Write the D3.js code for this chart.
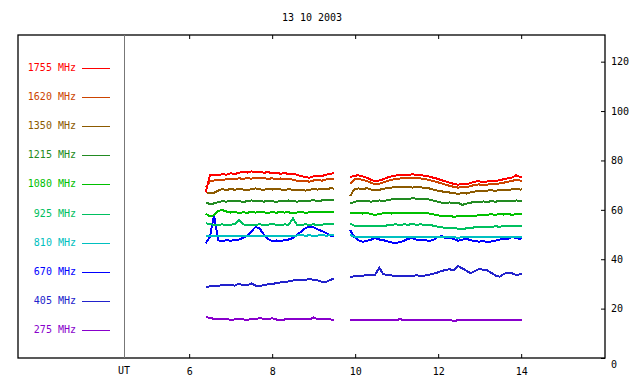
<!DOCTYPE html>
<meta charset="utf-8">
<script src="https://d3js.org/d3.v7.min.js"></script>
<style>
  body { margin: 0; background: #fff; }
  text { font-family: "DejaVu Sans Mono", monospace; font-size: 10px; }
</style>
<div id="chart"></div>
<script>
// frequencies (legend, top to bottom) and their colours
const freqs = ["1755 MHz", "1620 MHz", "1350 MHz", "1215 MHz", "1080 MHz",
               "925 MHz", "810 MHz", "670 MHz", "405 MHz", "275 MHz"];
const colors = ["#ff0000", "#cc4400", "#8c5a00", "#228b22", "#00c000",
                "#00c060", "#00c0c0", "#0000ff", "#2222cc", "#8800cc"];

const xTicks = [6, 8, 10, 12, 14];
const yTicks = [0, 20, 40, 60, 80, 100, 120];

// UT hours of the two observing runs
const t1 = [6.40,6.50,6.60,6.70,6.80,6.90,7.00,7.10,7.20,7.30,7.40,7.50,7.60,7.70,7.80,7.90,
            8.00,8.10,8.20,8.30,8.40,8.50,8.60,8.70,8.80,8.90,9.00,9.10,9.20,9.30,9.40,9.49];
const t2 = [9.88,9.98,10.08,10.18,10.28,10.38,10.48,10.58,10.68,10.78,10.88,10.98,11.08,11.18,
            11.28,11.38,11.48,11.58,11.68,11.78,11.88,11.98,12.08,12.18,12.28,12.38,12.48,12.58,
            12.68,12.78,12.88,12.98,13.08,13.18,13.28,13.38,13.48,13.58,13.68,13.78,13.88,13.98,14.02];

// flux values, run 1
const f1755a = [67.0,74.0,74.3,73.9,74.5,74.2,74.8,74.5,75.0,75.4,75.1,75.6,75.2,75.5,75.0,75.3,
                74.8,75.1,74.6,74.9,74.5,74.7,74.2,73.6,73.3,73.0,73.6,73.9,73.7,74.2,74.6,74.8];
const f1620a = [69.0,71.6,71.9,72.2,72.0,72.4,72.6,72.3,72.8,72.5,72.9,72.6,73.0,72.7,72.9,72.5,
                72.8,72.4,72.7,72.3,72.6,72.2,71.8,71.5,71.7,71.4,71.9,72.1,71.8,72.3,72.6,72.4];
const f1350a = [67.2,66.7,66.9,67.8,68.4,68.0,68.5,68.1,68.6,68.2,68.0,68.4,68.7,68.3,68.1,68.5,
                68.2,68.6,68.3,68.0,68.4,68.1,67.9,68.2,67.8,68.1,68.4,68.2,68.5,68.3,68.7,68.6];
const f1215a = [63.0,62.3,62.6,63.1,63.5,63.3,63.7,63.4,63.6,63.2,63.5,63.8,63.4,63.6,63.3,63.7,
                63.5,63.2,63.6,63.4,63.8,63.5,63.3,63.6,63.4,63.7,63.9,63.6,63.8,64.1,63.9,64.0];
const f1080a = [58.4,57.3,57.8,59.6,59.9,59.3,58.9,59.1,58.7,59.0,58.8,59.2,58.9,59.3,59.0,58.7,
                59.1,58.8,59.2,58.9,59.0,58.6,58.9,59.1,58.8,59.0,59.2,58.9,59.1,59.3,59.0,59.2];
const f925a  = [54.6,54.2,53.9,54.0,54.1,53.9,54.0,54.2,55.9,54.1,53.9,54.0,54.0,54.1,53.9,54.0,
                54.2,54.0,53.9,54.1,54.0,56.6,53.9,54.0,54.1,54.0,54.1,53.9,54.0,54.2,54.1,54.3];
const f810a  = [49.2,49.4,49.3,49.5,49.2,49.4,49.6,49.3,49.5,49.4,49.2,49.5,49.3,49.6,49.4,49.2,
                49.5,49.3,49.6,49.4,49.5,49.3,49.6,49.8,49.5,49.7,49.4,49.6,49.8,49.5,49.7,49.6];
const f670a  = [46.5,49.0,58.0,47.6,47.4,47.7,47.5,47.8,48.0,48.6,49.5,51.3,53.1,52.4,50.0,48.2,
                47.4,47.6,47.3,47.7,48.0,48.6,49.8,51.2,52.6,53.2,52.9,52.1,51.4,50.6,49.6,49.2];
const f405a  = [28.8,29.0,29.3,29.2,29.5,29.4,29.6,29.3,30.1,29.5,29.4,30.2,29.3,29.1,29.6,29.8,
                30.0,30.3,30.6,30.9,31.0,31.4,31.5,31.6,31.7,31.9,31.7,31.4,30.9,30.8,31.6,32.2];
const f275a  = [16.5,16.3,15.8,15.6,15.9,15.7,15.5,15.6,15.8,15.6,15.5,15.7,15.6,16.3,15.7,15.8,
                16.1,15.6,15.2,15.6,15.7,15.6,15.7,15.6,15.7,15.6,16.4,15.7,15.9,15.8,15.6,15.5];

// flux values, run 2
const f1755b = [73.2,73.8,74.0,73.5,73.0,72.2,71.6,71.9,72.4,73.1,73.6,73.9,74.0,74.3,74.1,74.4,
                74.2,74.0,73.8,73.5,73.0,72.6,72.0,71.5,71.0,70.5,70.2,70.4,70.3,70.9,71.4,71.6,
                71.2,71.5,71.8,71.6,72.0,72.4,72.8,73.1,74.0,73.2,73.4];
const f1620b = [70.5,72.3,72.5,72.1,71.7,71.0,70.4,70.6,71.1,71.7,72.2,72.5,72.7,72.9,72.8,73.0,
                72.8,72.7,72.5,72.1,71.7,71.2,70.7,70.2,69.7,69.3,69.0,69.2,69.1,69.6,70.1,70.3,
                70.0,70.2,70.5,70.3,70.7,71.0,71.4,71.6,72.3,71.8,71.9];
const f1350b = [65.5,68.4,68.7,68.3,68.8,68.2,67.9,68.1,68.5,68.8,69.0,69.3,69.1,69.4,69.2,69.0,
                69.3,69.1,68.9,68.7,68.2,67.8,67.5,67.2,67.0,66.7,66.5,66.8,66.6,67.1,67.4,67.7,
                67.5,67.8,67.9,67.7,68.0,68.2,68.0,68.3,68.4,68.2,68.3];
const f1215b = [62.6,63.2,63.6,63.4,63.7,63.3,63.5,63.8,63.6,63.9,64.2,64.5,64.3,64.6,64.4,64.7,
                64.5,64.3,64.6,64.2,63.8,63.3,62.9,62.7,63.0,62.6,62.8,62.0,62.5,62.9,63.2,63.0,
                63.4,63.2,63.5,63.3,63.6,63.4,63.7,63.5,63.8,63.6,63.7];
const f1080b = [58.9,58.6,58.8,58.5,58.7,58.3,57.9,58.4,58.6,58.8,58.5,58.7,58.9,58.6,58.8,58.7,
                58.9,58.6,58.8,58.5,58.2,57.8,57.5,57.3,57.5,57.2,57.4,57.3,57.5,57.4,57.6,57.8,
                57.7,58.0,58.2,58.0,58.3,58.1,58.3,58.0,58.2,58.4,58.2];
const f925b  = [54.5,53.6,53.4,53.6,53.3,53.5,53.4,53.6,53.5,53.7,54.0,54.1,53.9,54.1,54.0,54.2,
                54.0,54.1,53.9,54.0,53.6,53.2,52.9,52.7,52.8,52.6,52.4,52.2,52.5,52.7,52.9,53.1,
                53.0,53.2,53.1,53.3,53.2,53.4,53.3,53.5,53.3,53.4,53.4];
const f810b  = [49.8,49.2,49.0,48.9,49.1,48.9,49.0,49.2,49.0,48.9,49.1,49.0,48.8,49.0,49.1,48.9,
                49.0,49.2,49.0,48.9,49.1,49.0,48.8,48.9,49.1,48.9,48.7,48.9,49.0,48.8,49.0,49.1,
                48.9,49.0,48.8,49.0,49.1,48.9,49.0,49.2,49.0,48.9,49.0];
const f670b  = [51.8,49.0,47.6,47.1,47.4,47.9,48.5,48.0,47.7,47.2,46.8,46.6,46.9,47.5,48.3,48.6,
                47.9,47.6,47.8,47.4,47.8,48.9,49.4,48.6,48.8,48.2,47.5,47.9,48.3,47.7,47.4,47.1,
                47.3,47.0,47.2,47.5,47.9,48.4,48.1,49.2,48.5,48.3,48.6];
const f405b  = [32.6,33.2,33.4,33.3,33.6,33.4,33.7,36.6,33.9,33.6,33.4,33.1,33.3,33.2,33.4,33.3,
                33.5,33.2,33.4,33.7,34.1,34.6,35.2,35.7,35.9,35.5,37.2,36.3,35.4,34.3,35.2,36.0,
                35.8,35.5,34.5,33.4,32.9,34.0,34.6,34.3,33.6,33.9,34.2];
const f275b  = [15.5,15.4,15.3,15.4,15.4,15.3,15.4,15.6,15.4,15.3,15.4,15.4,15.7,15.4,15.3,15.4,
                15.4,15.3,15.6,15.4,15.3,15.4,15.4,15.3,15.4,15.0,15.3,15.4,15.4,15.3,15.4,15.4,
                15.3,15.4,15.5,15.4,15.3,15.4,15.4,15.5,15.4,15.3,15.4];

const run1 = [f1755a, f1620a, f1350a, f1215a, f1080a, f925a, f810a, f670a, f405a, f275a];
const run2 = [f1755b, f1620b, f1350b, f1215b, f1080b, f925b, f810b, f670b, f405b, f275b];

const width = 640, height = 384;
const box = {left: 18, top: 35, right: 605, bottom: 358};
const plotLeft = 124;

const svg = d3.select("#chart").append("svg")
    .attr("width", width)
    .attr("height", height);

const x = d3.scaleLinear().domain([4.43, 16.02]).range([plotLeft, box.right]);
const y = d3.scaleLinear().domain([0, 130.8]).range([box.bottom, box.top]);

// title
svg.append("text")
    .attr("x", 312).attr("y", 18)
    .attr("text-anchor", "middle")
    .attr("dominant-baseline", "middle")
    .text("13 10 2003");

// data lines, low frequency first so 1755 ends on top
const line = d3.line()
    .x(d => x(d[0]))
    .y(d => y(d[1]));

for (let i = freqs.length - 1; i >= 0; i--) {
  [[t1, run1[i]], [t2, run2[i]]].forEach(([t, v]) => {
    svg.append("path")
        .datum(d3.zip(t, v))
        .attr("fill", "none")
        .attr("stroke", colors[i])
        .attr("stroke-width", 2)
        .attr("shape-rendering", "crispEdges")
        .attr("d", line);
  });
}

// legend
const legend = svg.append("g");
freqs.forEach((f, i) => {
  const ly = 67.5 + i * 29.2;
  legend.append("text")
      .attr("x", 76).attr("y", ly)
      .attr("text-anchor", "end")
      .attr("dominant-baseline", "middle")
      .attr("fill", colors[i])
      .text(f);
  legend.append("line")
      .attr("x1", 82).attr("x2", 110)
      .attr("y1", Math.round(ly) + 0.5).attr("y2", Math.round(ly) + 0.5)
      .attr("stroke", colors[i])
      .attr("stroke-width", 1);
});

// frame
svg.append("rect")
    .attr("x", box.left).attr("y", box.top)
    .attr("width", box.right - box.left)
    .attr("height", box.bottom - box.top)
    .attr("fill", "none")
    .attr("stroke", "#000")
    .attr("stroke-width", 1.3);

svg.append("line")
    .attr("x1", plotLeft + 0.5).attr("x2", plotLeft + 0.5)
    .attr("y1", box.top).attr("y2", box.bottom)
    .attr("stroke", "#777")
    .attr("stroke-width", 1);

// bottom axis: ticks point up
const xAxis = svg.append("g")
    .attr("transform", "translate(0," + box.bottom + ")")
    .call(d3.axisBottom(x).tickValues(xTicks).tickSizeInner(-4).tickSizeOuter(0).tickPadding(10));
xAxis.select(".domain").remove();
xAxis.selectAll("text").attr("font-family", "DejaVu Sans Mono").attr("font-size", 10);

// top axis ticks only
const xTop = svg.append("g")
    .attr("transform", "translate(0," + box.top + ")")
    .call(d3.axisTop(x).tickValues(xTicks).tickSizeInner(-4).tickSizeOuter(0).tickFormat(""));
xTop.select(".domain").remove();

svg.append("text")
    .attr("x", plotLeft).attr("y", 371)
    .attr("text-anchor", "middle")
    .attr("dominant-baseline", "middle")
    .text("UT");

// right axis
const yAxis = svg.append("g")
    .attr("transform", "translate(" + box.right + ",0)")
    .call(d3.axisRight(y).tickValues(yTicks).tickSizeInner(-4).tickSizeOuter(0).tickPadding(6));
yAxis.select(".domain").remove();
yAxis.selectAll("text").attr("font-family", "DejaVu Sans Mono").attr("font-size", 10);
yAxis.selectAll(".tick").filter(d => d === 0).select("text").attr("dy", "0.95em");
</script>
